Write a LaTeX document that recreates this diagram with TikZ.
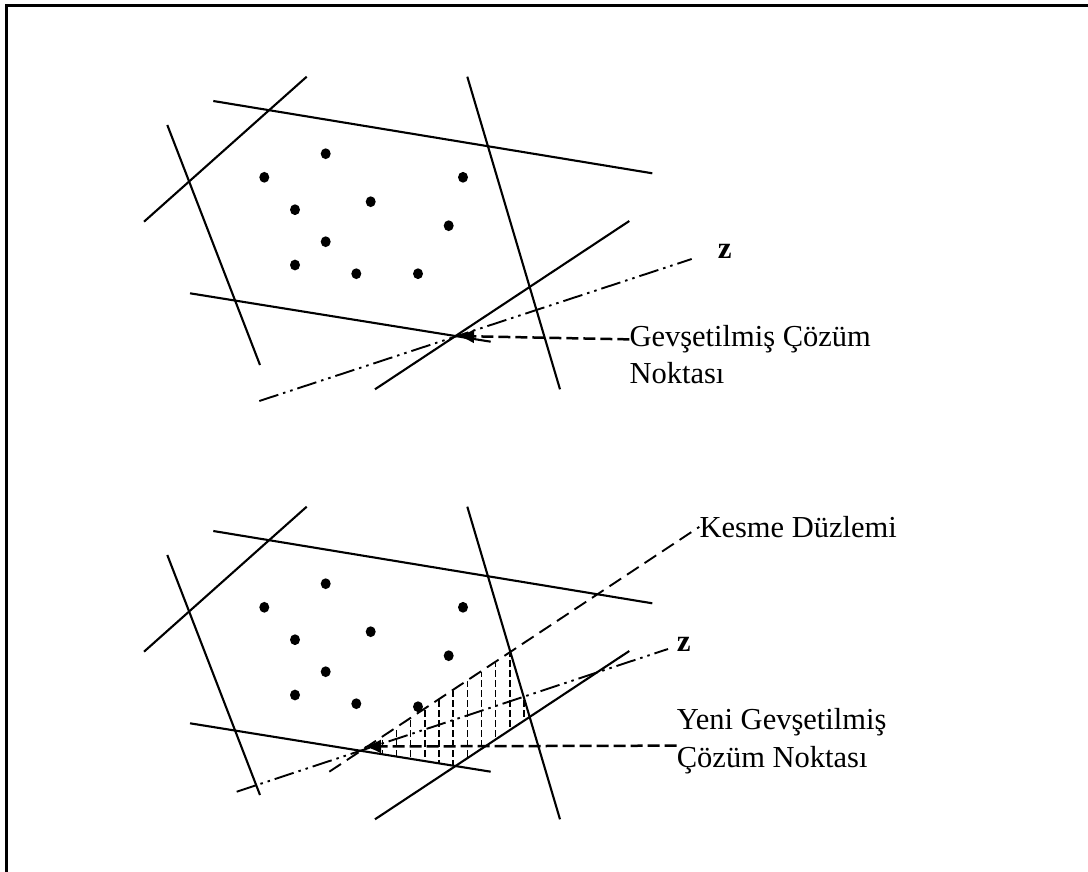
\documentclass[tikz,border=0pt]{standalone}
\usepackage{fontspec}
\setmainfont{Liberation Serif}
\usetikzlibrary{arrows.meta}
\tikzset{
  solidline/.style={line width=2.1pt},
  lpdot/.style={fill=black, draw=none},
  zline/.style={line width=1.9pt, dash pattern=on 20pt off 5pt on 2.5pt off 5pt on 2.5pt off 5pt},
  pointer/.style={line width=2.5pt, dash pattern=on 12pt off 5pt, -{Latex[length=17pt,width=14pt]}},
  cutline/.style={line width=1.9pt, dash pattern=on 14pt off 7pt},
  hatch/.style={line width=1.6pt, dash pattern=on 6.5pt off 3.5pt},
  lbl/.style={inner sep=0pt, anchor=base west, font=\fontsize{30.5}{36.7}\selectfont},
}
\newcommand\polylines{%
  \draw[solidline] (144,221.7) -- (306.7,76.7);
  \draw[solidline] (167.3,125) -- (260,365);
  \draw[solidline] (213.3,101) -- (652.3,173.3);
  \draw[solidline] (467.3,76.7) -- (560,389.3);
  \draw[solidline] (190,293.3) -- (490.7,341.7);
  \draw[solidline] (375,389.3) -- (629.3,221);
}
\begin{document}
\begin{tikzpicture}[x=1pt,y=-1pt]
\useasboundingbox (0,0) rectangle (1088,872);
% frame
\draw[line width=2.3pt] (6.5,872) -- (6.5,5.5) -- (1088,5.5);

% ---------- top figure ----------
\polylines
\foreach \p in {(264.3,177.3),(325.7,153.7),(295,209.7),(370.7,201.7),(463,177.3),(448.7,225.7),(325.7,241.7),(295,265),(356.3,273.7),(418,273.7)}
  \fill[lpdot] \p ellipse [x radius=5pt, y radius=5.4pt];
\coordinate (za1) at (259.3,401);
\coordinate (zb1) at (691.7,259);
\draw[zline] (za1) -- (zb1);
\node[lbl, font=\fontsize{31}{36.7}\selectfont\bfseries] (z1) at (717.7,258.3) {z};
\coordinate (p1) at (457,336);
\node[lbl] (lab1) at (629.3,346.7) {Gevşetilmiş Çözüm};
\node[lbl] (lab1b) at (629.3,383.4) {Noktası};
\draw[pointer] (lab1.west) -- (p1);

% ---------- bottom figure ----------
\begin{scope}[shift={(0,430)}]
\polylines
\foreach \p in {(264.3,177.3),(325.7,153.7),(295,209.7),(370.7,201.7),(463,177.3),(448.7,225.7),(325.7,241.7),(295,265),(356.3,273.7),(418,276.7)}
  \fill[lpdot] \p ellipse [x radius=5pt, y radius=5.4pt];
\end{scope}
% hatched region
\begin{scope}
\clip (361.2,750.8) -- (510.8,652.8) -- (529.8,716.8) -- (455.5,765.6) -- cycle;
\foreach \k in {0,...,10}
  \draw[hatch] ({382.3+14.17*\k},640) -- ({382.3+14.17*\k},780);
\end{scope}
\coordinate (za2) at (236.7,791.7);
\coordinate (zb2) at (668,649);
\draw[zline] (za2) -- (zb2);
\node[lbl, font=\fontsize{31}{36.7}\selectfont\bfseries] (z2) at (676.7,651.7) {z};
% cutting plane
\node[lbl] (lab3) at (699.3,537.3) {Kesme Düzlemi};
\coordinate (cut0) at (329.3,771.7);
\draw[cutline] (cut0) -- (lab3.west);
% new relaxed solution
\coordinate (p2) at (364,746.5);
\node[lbl] (lab2) at (676.7,729) {Yeni Gevşetilmiş};
\node[lbl] (lab2b) at (676.7,767) {Çözüm Noktası};
\draw[pointer] (lab2b.north west) -- (p2);
\end{tikzpicture}
\end{document}
